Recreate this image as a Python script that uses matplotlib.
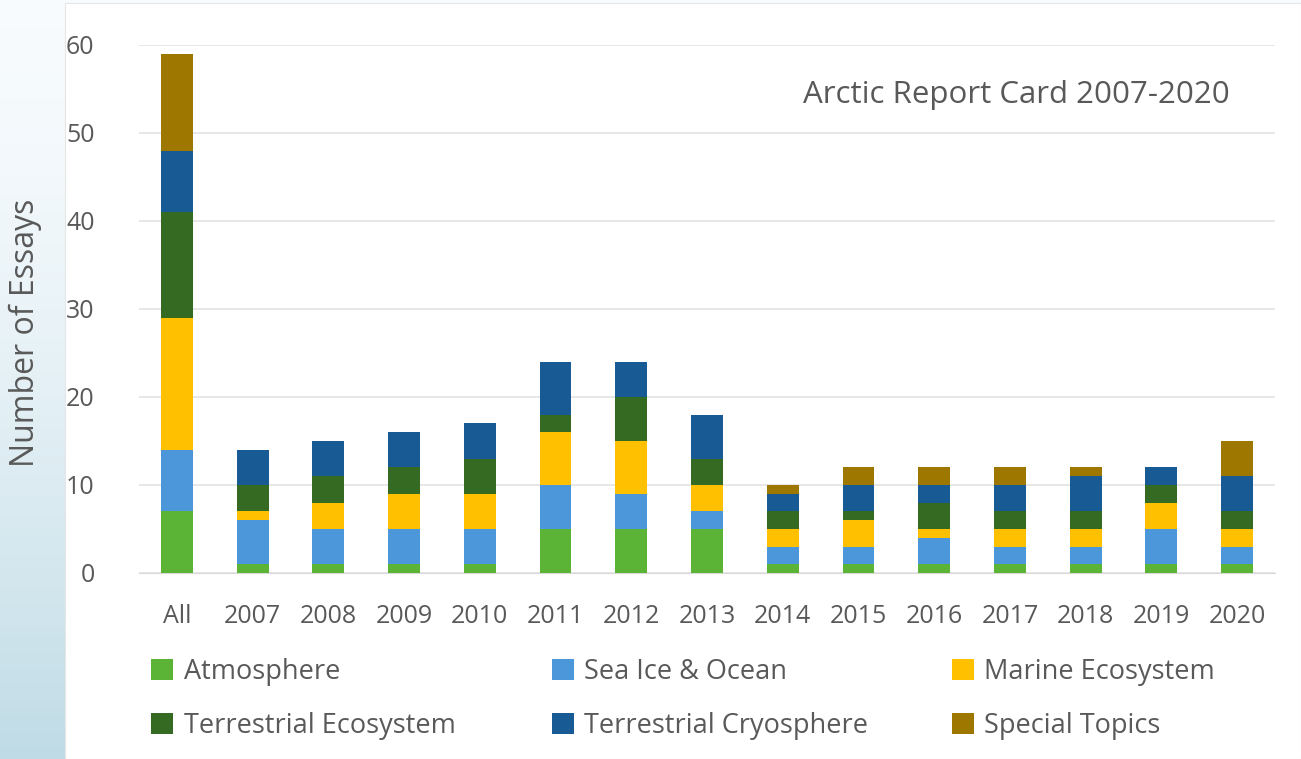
import numpy as np
import matplotlib.pyplot as plt
from matplotlib.patches import Rectangle

plt.rcParams['font.family'] = ['Open Sans', 'DejaVu Sans']

categories = ["All", "2007", "2008", "2009", "2010", "2011", "2012", "2013",
              "2014", "2015", "2016", "2017", "2018", "2019", "2020"]
atmosphere = [7, 1, 1, 1, 1, 5, 5, 5, 1, 1, 1, 1, 1, 1, 1]
sea_ice = [7, 5, 4, 4, 4, 5, 4, 2, 2, 2, 3, 2, 2, 4, 2]
marine = [15, 1, 3, 4, 4, 6, 6, 3, 2, 3, 1, 2, 2, 3, 2]
terr_eco = [12, 3, 3, 3, 4, 2, 5, 3, 2, 1, 3, 2, 2, 2, 2]
terr_cryo = [7, 4, 4, 4, 4, 6, 4, 5, 2, 3, 2, 3, 4, 2, 4]
special = [11, 0, 0, 0, 0, 0, 0, 0, 1, 2, 2, 2, 1, 0, 4]

series = [
    ("Atmosphere", atmosphere, "#5BB436"),
    ("Sea Ice & Ocean", sea_ice, "#4C97DA"),
    ("Marine Ecosystem", marine, "#FFC000"),
    ("Terrestrial Ecosystem", terr_eco, "#346A21"),
    ("Terrestrial Cryosphere", terr_cryo, "#175A94"),
    ("Special Topics", special, "#9E7700"),
]

text_color = "#595959"

fig = plt.figure(figsize=(13.01, 7.59), dpi=100)

# slide background: light blue gradient strip on the left, white panel
bg = fig.add_axes([0, 0, 1, 1], zorder=-10)
grad = np.linspace(0, 1, 256).reshape(-1, 1)
c_top = np.array([0.97, 0.985, 0.995])
c_bot = np.array([0.75, 0.86, 0.90])
img = c_top + (c_bot - c_top) * (grad ** 1.6)[:, :, None] * np.ones((1, 1, 3))
bg.imshow(img, aspect="auto", extent=[0, 1, 0, 1], origin="upper")
bg.add_patch(Rectangle((65 / 1301, 0), 1 - 65 / 1301, 1 - 3 / 759,
                       facecolor="white", edgecolor="#E6E6E6", lw=0.8))
bg.set_xlim(0, 1)
bg.set_ylim(0, 1)
bg.axis("off")

ax = fig.add_axes([139 / 1301, 1 - 573 / 759, (1275 - 139) / 1301, (573 - 45) / 759])
ax.set_facecolor("none")

x = np.arange(len(categories))
bottom = np.zeros(len(categories))
handles = []
for name, vals, color in series:
    b = ax.bar(x, vals, width=0.42, bottom=bottom, color=color, label=name, zorder=3)
    handles.append(b)
    bottom += np.array(vals)

ax.set_xlim(-0.5, 14.5)
ax.set_ylim(0, 60)
ax.set_yticks(range(0, 61, 10))
ax.yaxis.grid(True, color="#E3E3E3", lw=1.2, zorder=0)
ax.set_xticks(x)
ax.set_xticklabels(categories)
ax.tick_params(axis="both", length=0, labelsize=18, colors=text_color)
ax.tick_params(axis="y", pad=32)
ax.tick_params(axis="x", pad=22)
for s in ax.spines.values():
    s.set_visible(False)
ax.spines["bottom"].set_visible(True)
ax.spines["bottom"].set_color("#D9D9D9")

ax.text(0.96, 0.905, "Arctic Report Card 2007-2020", transform=ax.transAxes,
        ha="right", va="center", fontsize=22.5, color=text_color)

fig.text(25 / 1301, 1 - 333 / 759, "Number of Essays", rotation=90,
         ha="center", va="center", fontsize=23, color=text_color)

# legend laid out as three columns of two rows
col_x = [151, 552, 952]
for c in range(3):
    idx = [c, c + 3]
    leg = fig.legend([handles[i] for i in idx], [series[i][0] for i in idx],
                     ncol=1, loc="upper left",
                     bbox_to_anchor=(col_x[c] / 1301, 1 - 658 / 759),
                     frameon=False, fontsize=19.5, handlelength=0.8, handleheight=0.8,
                     handletextpad=0.4, labelspacing=0.95,
                     borderaxespad=0, borderpad=0)
    for t in leg.get_texts():
        t.set_color(text_color)

fig.savefig("out.png", dpi=100)
